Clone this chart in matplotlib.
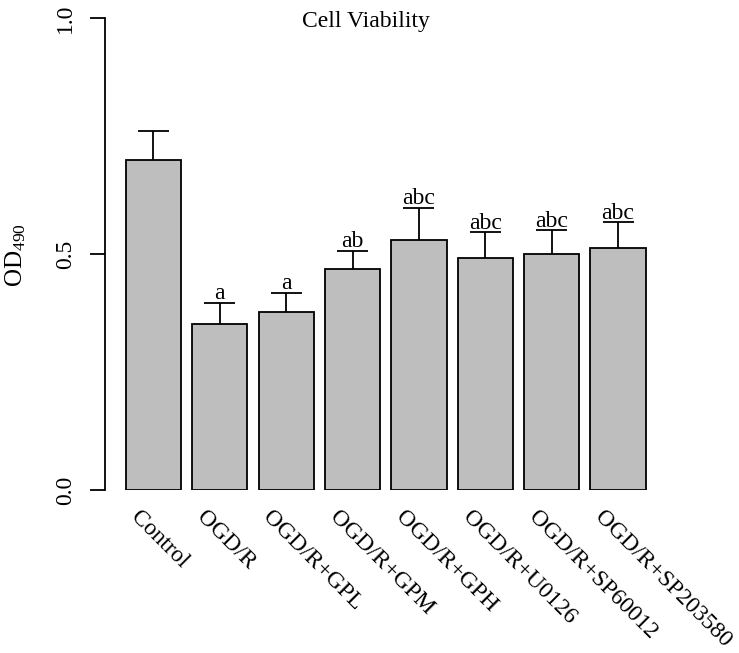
import matplotlib
matplotlib.use("Agg")
import matplotlib.pyplot as plt
import matplotlib.transforms as mtransforms

plt.rcParams['font.family'] = ['Liberation Serif', 'DejaVu Serif']
plt.rcParams['mathtext.fontset'] = 'custom'
plt.rcParams['mathtext.rm'] = 'Liberation Serif'
plt.rcParams['mathtext.it'] = 'Liberation Serif:italic'
plt.rcParams['mathtext.bf'] = 'Liberation Serif:bold'

categories = ['Control', 'OGD/R', 'OGD/R+GPL', 'OGD/R+GPM', 'OGD/R+GPH',
              'OGD/R+U0126', 'OGD/R+SP60012', 'OGD/R+SP203580']
means = [0.699, 0.352, 0.378, 0.468, 0.530, 0.491, 0.499, 0.512]
errors = [0.062, 0.044, 0.040, 0.038, 0.068, 0.055, 0.051, 0.055]
letters = ['', 'a', 'a', 'ab', 'abc', 'abc', 'abc', 'abc']
yticks = [0.0, 0.5, 1.0]
yticklabels = ['0.0', '0.5', '1.0']
title = 'Cell Viability'

W, H = 739, 653
fig = plt.figure(figsize=(W / 100, H / 100), dpi=100)

def px2fig(x, y):
    return x / W, (H - y) / H

# axes: x from 105 to 666.5 px, y from 490 (0) to 18 (1)
l, b = px2fig(105, 490)
ax = fig.add_axes([l, b, (666.5 - 105) / W, (490 - 18) / H])

x = [0.7 + 1.2 * i for i in range(len(categories))]
ax.bar(x, means, width=1.0, color='#bebebe', edgecolor='black', linewidth=1.3, zorder=2)

tops = [m + e for m, e in zip(means, errors)]
ax.vlines(x, means, tops, colors='black', linewidth=1.3, zorder=3)
ax.hlines(tops, [xi - 0.28 for xi in x], [xi + 0.28 for xi in x],
          colors='black', linewidth=1.3, zorder=3)

for xi, t, lab in zip(x, tops, letters):
    if lab:
        ax.text(xi, t + 0.008, lab, ha='center', va='baseline', fontsize=17)

ax.set_xlim(-0.176, 9.976)
ax.set_ylim(0, 1)
for s in ['top', 'right', 'bottom']:
    ax.spines[s].set_visible(False)
ax.spines['left'].set_linewidth(1.3)
ax.spines['left'].set_bounds(0, 1)
ax.set_xticks([])
ax.set_yticks(yticks)
ax.set_yticklabels(yticklabels, rotation=90, va='center', fontsize=17)
ax.tick_params(axis='y', length=10.8, width=1.3, pad=10)

# rotated x labels
trans = mtransforms.blended_transform_factory(ax.transData, ax.transAxes)
for xi, cat in zip(x, categories):
    t = ax.text(xi - 0.36, 0, cat, rotation=-45, rotation_mode='anchor',
                ha='left', va='center', fontsize=17, transform=trans)
    t.set_transform(trans + mtransforms.ScaledTranslation(0, -24 / 100, fig.dpi_scale_trans))

tx, ty = px2fig(366, 27)
fig.text(tx, ty, title, ha='center', va='baseline', fontsize=17)

lx, ly = px2fig(16, 255)
fig.text(lx, ly, r'OD$_{490}$', rotation=90, ha='center', va='center', fontsize=18)

fig.savefig('out.png', dpi=100)
